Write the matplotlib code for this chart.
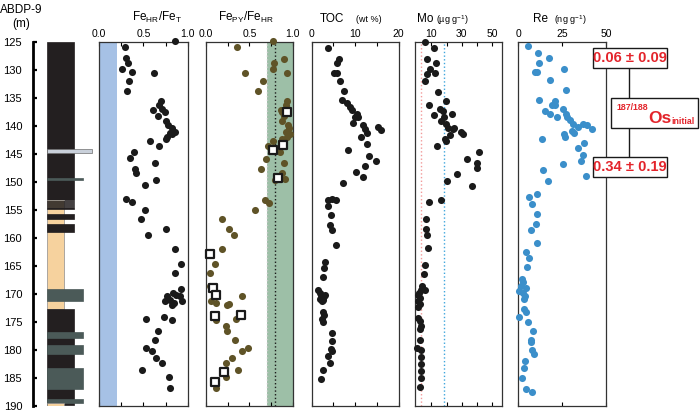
import matplotlib
matplotlib.use('Agg')
import matplotlib.pyplot as plt
from matplotlib.patches import Rectangle

plt.rcParams['font.family'] = ['Liberation Sans', 'DejaVu Sans']
plt.rcParams['mathtext.fontset'] = 'custom'
plt.rcParams['mathtext.rm'] = 'Liberation Sans'
plt.rcParams['mathtext.it'] = 'Liberation Sans:italic'
plt.rcParams['mathtext.bf'] = 'Liberation Sans:bold'

# lithology log (depth in m)
lith_top = [125.0, 153.2, 153.35, 153.75, 154.15, 154.55, 155.7, 157.5, 144.1, 149.3, 169.1,
            172.8, 176.9, 179.2, 183.3, 188.9, 189.6]
lith_base = [153.2, 172.8, 153.55, 153.95, 154.35, 154.8, 156.7, 159.0, 144.9, 149.6, 171.3,
             190.0, 178.0, 180.8, 187.0, 189.6, 190.2]
lith_kind = ['mud', 'sand', 'mud', 'mud', 'mud', 'mud', 'mud', 'mud', 'ash', 'tuff', 'tuff',
             'mud', 'tuff', 'tuff', 'tuff', 'tuff', 'sand']

# FeHR/FeT
fe1_depth = [124.8, 125.9, 127.9, 128.7, 129.8, 130.4, 130.6, 131.9, 133.8, 135.6, 136.3, 136.9,
             137.2, 137.6, 138.2, 139.1, 139.9, 140.3, 141.1, 141.2, 141.5, 141.9, 142.3, 142.7,
             143.6, 144.7, 145.7, 146.7, 147.7, 148.5, 149.6, 150.5, 153.0, 153.6, 155.0, 156.6,
             158.4, 159.5, 162.0, 164.7, 166.3, 169.2, 169.8, 170.2, 170.5, 170.5, 171.1, 171.3,
             171.4, 171.7, 172.1, 174.1, 174.5, 174.8, 176.6, 178.2, 179.7, 180.3, 181.5, 182.4,
             183.7, 184.9, 186.8]
fe1_val = [0.86, 0.29, 0.31, 0.33, 0.26, 0.37, 0.62, 0.34, 0.32, 0.70, 0.68, 0.71,
           0.61, 0.74, 0.67, 0.76, 0.78, 0.82, 0.86, 0.80, 0.82, 0.77, 0.76, 0.58,
           0.68, 0.40, 0.35, 0.63, 0.41, 0.42, 0.64, 0.52, 0.31, 0.37, 0.52, 0.47,
           0.75, 0.55, 0.86, 0.92, 0.86, 0.92, 0.83, 0.87, 0.77, 0.91, 0.80, 0.94,
           0.74, 0.84, 0.82, 0.73, 0.53, 0.82, 0.67, 0.63, 0.53, 0.60, 0.64, 0.71,
           0.49, 0.79, 0.80]

# FePY/FeHR
fe2_depth = [124.8, 125.9, 128.0, 128.7, 129.8, 130.5, 130.5, 131.9, 133.8, 135.6, 136.3, 136.9,
             137.2, 137.6, 138.2, 139.1, 139.9, 140.3, 141.1, 141.5, 141.9, 142.3, 142.7, 143.6,
             144.7, 145.9, 146.7, 147.7, 148.5, 149.5, 149.6, 153.2, 153.8, 155.0, 156.6, 158.4,
             159.5, 162.0, 164.7, 166.3, 168.6, 170.4, 171.4, 171.7, 171.9, 172.1, 174.6, 174.7,
             175.7, 176.6, 178.2, 179.7, 180.3, 181.5, 182.4, 183.7, 184.9, 186.8]
fe2_val = [0.77, 0.36, 0.90, 0.79, 0.77, 0.45, 0.94, 0.66, 0.60, 0.94, 0.92, 0.93,
           0.86, 0.88, 0.90, 0.88, 0.95, 0.96, 0.92, 0.97, 0.94, 0.88, 0.77, 0.72,
           0.85, 0.69, 0.90, 0.63, 0.88, 0.91, 0.80, 0.68, 0.73, 0.57, 0.19, 0.27,
           0.32, 0.18, 0.10, 0.05, 0.05, 0.41, 0.06, 0.12, 0.27, 0.24, 0.35, 0.12,
           0.23, 0.24, 0.33, 0.49, 0.42, 0.30, 0.23, 0.37, 0.23, 0.11]
sq_depth = [137.5, 143.4, 144.3, 149.3, 162.9, 169.0, 170.2, 173.8, 174.0, 184.0, 185.8]
sq_val = [0.94, 0.89, 0.77, 0.83, 0.05, 0.08, 0.12, 0.40, 0.10, 0.21, 0.10]

# TOC (wt %)
toc_depth = [126.0, 128.0, 128.8, 130.5, 130.5, 131.9, 133.8, 135.3, 135.9, 136.6, 137.1, 137.8,
             138.5, 138.5, 139.4, 139.9, 140.6, 140.2, 140.8, 141.2, 141.9, 143.3, 144.3, 145.4,
             146.3, 147.2, 148.2, 149.2, 150.2, 153.0, 153.2, 153.3, 154.4, 156.0, 157.8, 158.7,
             161.3, 164.3, 165.5, 167.0, 169.4, 169.8, 170.2, 170.3, 170.5, 170.7, 171.0, 171.1,
             171.3, 173.2, 173.8, 174.5, 175.0, 177.0, 178.5, 179.9, 180.3, 181.2, 182.4, 183.7,
             185.3]
toc_val = [3.8, 6.2, 5.9, 5.2, 5.9, 6.5, 7.4, 6.9, 8.0, 8.7, 9.2, 10.5,
           10.0, 10.7, 9.4, 11.7, 12.3, 15.3, 15.9, 12.7, 11.3, 12.8, 8.4, 13.2,
           14.8, 12.3, 10.1, 11.7, 7.3, 4.75, 5.6, 3.8, 3.8, 4.4, 4.1, 4.6,
           5.5, 3.1, 2.9, 2.5, 1.5, 1.8, 3.1, 2.1, 2.8, 2.5, 1.9, 2.7,
           2.3, 2.5, 2.8, 2.3, 2.7, 4.6, 4.6, 4.4, 4.6, 3.8, 4.1, 2.7,
           2.1]

# Mo (ug/g)
mo_depth = [125.0, 126.0, 128.1, 128.8, 129.9, 130.7, 130.5, 131.9, 133.9, 135.5, 136.3, 136.9,
            138.1, 137.3, 137.8, 138.5, 139.1, 139.7, 140.3, 140.5, 140.3, 141.7, 141.1, 141.4,
            142.3, 142.7, 143.6, 144.6, 145.9, 146.7, 147.6, 148.6, 149.8, 150.7, 153.2, 153.7,
            156.6, 158.4, 159.6, 161.9, 164.8, 166.4, 168.6, 169.3, 169.3, 169.9, 170.3, 170.7,
            171.3, 171.9, 172.3, 174.3, 174.9, 175.8, 176.4, 178.2, 179.7, 180.1, 181.3, 182.5,
            183.8, 185.0, 186.7]
mo_val = [6.1, 11.7, 7.4, 13.2, 8.9, 7.4, 12.6, 6.1, 14.3, 19.3, 8.2, 15.4,
          11.7, 17.6, 23.4, 18.2, 16.5, 19.7, 20.8, 24.0, 25.1, 21.9, 29.5, 30.5,
          19.1, 19.7, 13.7, 41.4, 33.4, 39.8, 39.8, 26.9, 20.2, 37.0, 16.5, 8.5,
          6.7, 6.7, 7.4, 7.8, 6.1, 5.2, 3.9, 5.6, 3.1, 1.8, 0.9, 2.4,
          1.3, 2.4, 1.3, 1.3, 2.4, 3.1, 2.4, 2.4, 0.2, 3.1, 3.1, 3.1,
          3.1, 3.1, 2.4]
mo_lines = [3, 18]

# Re (ng/g)
re_depth = [125.8, 126.9, 127.9, 128.7, 129.8, 130.3, 130.3, 131.8, 133.6, 135.3, 135.6, 136.3,
            136.3, 136.9, 137.4, 137.8, 137.9, 138.4, 138.4, 139.0, 139.6, 139.7, 139.9, 140.2,
            140.6, 140.9, 141.2, 141.5, 141.9, 142.3, 143.1, 144.0, 145.2, 146.2, 146.9, 147.9,
            149.0, 149.9, 152.1, 152.7, 153.9, 155.7, 157.5, 158.6, 161.0, 162.5, 163.6, 165.2,
            167.4, 168.0, 168.6, 169.0, 169.5, 169.9, 170.4, 170.9, 172.7, 173.3, 174.2, 175.1,
            176.7, 178.2, 178.7, 180.0, 180.8, 182.1, 183.3, 185.0, 187.1, 187.6]
re_val = [5.7, 11.0, 17.5, 11.8, 26.2, 9.5, 10.8, 18.1, 27.0, 12.0, 20.9, 19.0,
          20.9, 25.3, 15.2, 18.1, 27.2, 21.9, 27.9, 29.5, 36.7, 31.4, 39.0, 34.2,
          41.8, 30.4, 31.7, 26.2, 26.6, 13.3, 37.5, 34.2, 36.7, 35.6, 25.3, 14.3,
          38.4, 16.7, 10.8, 6.1, 8.0, 10.5, 9.9, 7.0, 10.5, 4.2, 6.1, 4.9,
          1.9, 2.5, 1.3, 4.2, 0.6, 2.9, 3.8, 3.2, 3.2, 4.2, 0.6, 5.7,
          8.2, 7.0, 7.4, 7.6, 8.9, 3.8, 3.4, 2.3, 4.4, 7.8]

os_upper = '0.06 ± 0.09'
os_lower = '0.34 ± 0.19'

W, H = 700, 415
fig = plt.figure(figsize=(7, 4.15), dpi=100)
top_px, bot_px = 42, 405.5


def px_axes(x0, x1):
    return fig.add_axes([x0 / W, 1 - bot_px / H, (x1 - x0) / W, (bot_px - top_px) / H])


# lithology column
axl = px_axes(33.3, 95)
axl.set_xlim(33.3, 95)
axl.set_ylim(190, 125)
for s in ['top', 'right', 'bottom']:
    axl.spines[s].set_visible(False)
axl.spines['left'].set_linewidth(2)
axl.set_xticks([])
axl.set_yticks(range(125, 191, 5))
axl.tick_params(axis='y', direction='in', length=3, width=1.6, pad=8, labelsize=8)
lith_style = {
    'mud': (74, '#231f20', '#231f20'),
    'sand': (64.3, '#f6d29e', '#8c8c8c'),
    'tuff': (82.7, '#4b5a58', '#4b5a58'),
    'ash': (92.3, '#c9d0da', '#6e6e6e'),
}
for t, b, k in zip(lith_top, lith_base, lith_kind):
    right, fc, ec = lith_style[k]
    axl.barh((t + b) / 2, right - 46.7, height=b - t, left=46.7, color=fc,
             edgecolor=ec, linewidth=0.5)


def setup(ax, xlim, major, minor):
    ax.set_xlim(*xlim)
    ax.set_ylim(190, 125)
    ax.set_yticks([])
    ax.set_xticks(major)
    ax.set_xticks(minor, minor=True)
    ax.tick_params(axis='x', which='both', direction='in', top=True, bottom=True,
                   labeltop=True, labelbottom=False, length=3, width=0.8, pad=2,
                   labelsize=7.5)
    for s in ax.spines.values():
        s.set_linewidth(0.9)
        s.set_color('#333333')


dot = dict(s=26, linewidths=0, clip_on=False, zorder=3)

ax1 = px_axes(99, 187.7)
setup(ax1, (0, 1), [0, 0.5, 1.0], [0.25, 0.75])
ax1.axvspan(0, 0.2, color='#a6c1e5', lw=0)
ax1.scatter(fe1_val, fe1_depth, color='#1a1a1a', **dot)

ax2 = px_axes(206, 292.7)
setup(ax2, (0, 1), [0, 0.5, 1.0], [0.25, 0.75])
ax2.axvspan(0.7, 1.0, color='#9dbfa7', lw=0)
ax2.axvline(0.7, color='#c8c8c8', ls=':', lw=1)
ax2.axvline(0.8, color='#1a1a1a', ls=':', lw=1)
ax2.scatter(fe2_val, fe2_depth, color='#5f5327', **dot)
ax2.scatter(sq_val, sq_depth, marker='s', s=30, facecolor='white', edgecolor='#1a1a1a',
            linewidths=1.6, zorder=4, clip_on=False)

ax3 = px_axes(311.7, 398.7)
setup(ax3, (0, 20), [0, 10, 20], [5, 15])
ax3.scatter(toc_val, toc_depth, color='#1a1a1a', **dot)

ax4 = px_axes(415, 501.7)
setup(ax4, (-0.8, 56.2), [10, 30, 50], [20, 40])
ax4.axvline(mo_lines[0], color='#f29a9a', ls=':', lw=1)
ax4.axvline(mo_lines[1], color='#3fa6dc', ls=':', lw=1)
ax4.scatter(mo_val, mo_depth, color='#1a1a1a', **dot)

ax5 = px_axes(518.3, 606)
setup(ax5, (0, 50), [0, 25, 50], [])
ax5.scatter(re_val, re_depth, color='#3b8fca', **dot)

# overlay in pixel coordinates for titles and the Os boxes
ov = fig.add_axes([0, 0, 1, 1], zorder=10)
ov.set_xlim(0, W)
ov.set_ylim(H, 0)
ov.axis('off')
ov.patch.set_alpha(0)

ov.text(21, 10, 'ABDP-9', ha='center', va='center', fontsize=8.5)
ov.text(21, 24, '(m)', ha='center', va='center', fontsize=8.5)
ov.text(157, 17, r'Fe$_{\mathrm{HR}}$/Fe$_{\mathrm{T}}$', ha='center', va='center', fontsize=8.5)
ov.text(246, 17, r'Fe$_{\mathrm{PY}}$/Fe$_{\mathrm{HR}}$', ha='center', va='center', fontsize=8.5)
ov.text(320, 19, 'TOC', ha='left', va='center', fontsize=8.5)
ov.text(356, 20, '(wt %)', ha='left', va='center', fontsize=6.5)
ov.text(417, 19, 'Mo', ha='left', va='center', fontsize=8.5)
ov.text(436, 20, r'(µg g$^{-1}$)', ha='left', va='center', fontsize=6.5)
ov.text(533, 19, 'Re', ha='left', va='center', fontsize=8.5)
ov.text(554, 20, r'(ng g$^{-1}$)', ha='left', va='center', fontsize=6.5)

red = '#e3242b'
ov.plot([629, 629], [68, 157], color='#1a1a1a', lw=1, zorder=1)
for y0, y1 in [(47.7, 68.3), (156.7, 176.7)]:
    ov.add_patch(Rectangle((593.3, y0), 74, y1 - y0, fc='white', ec='#1a1a1a', lw=1, zorder=2))
ov.add_patch(Rectangle((611, 97.7), 87, 30, fc='white', ec='#1a1a1a', lw=1, zorder=2))
narrow = ['Liberation Sans Narrow', 'Liberation Sans']
ov.text(630.3, 58.3, os_upper, ha='center', va='center', fontsize=10.5, fontweight='bold',
        color=red, family=narrow, zorder=3)
ov.text(630.3, 167, os_lower, ha='center', va='center', fontsize=10.5, fontweight='bold',
        color=red, family=narrow, zorder=3)
ov.text(616, 110, '187/188', ha='left', va='baseline', fontsize=6.3, fontweight='bold',
        color=red, zorder=3)
ov.text(648, 122.5, 'Os', ha='left', va='baseline', fontsize=12.5, fontweight='bold',
        color=red, zorder=3)
ov.text(671, 123.8, 'initial', ha='left', va='baseline', fontsize=6.3, fontweight='bold',
        color=red, zorder=3)

fig.savefig('out.png', dpi=100)
